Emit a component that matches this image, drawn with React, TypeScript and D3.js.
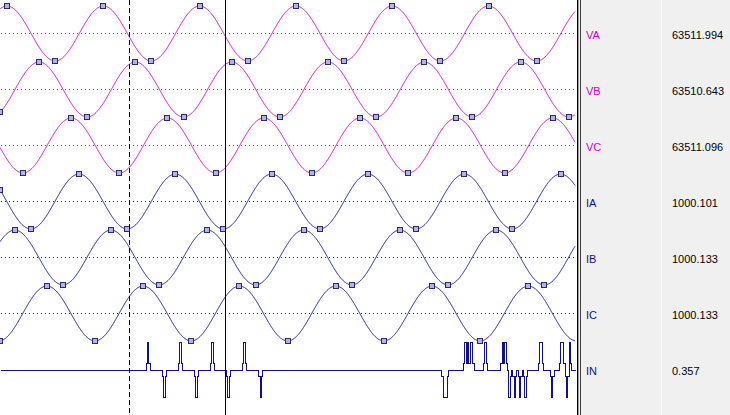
import React from 'react';
import * as d3 from 'd3';

const WIDTH = 730;
const HEIGHT = 415;

// ---- data ----
const PERIOD_MS = 1000 / 60;          // 60 Hz system
const T_END_MS = 99.5;                // visible time window
const CHANNELS = ['VA', 'VB', 'VC', 'IA', 'IB', 'IC', 'IN'];
const CHANNEL_KIND = ['V', 'V', 'V', 'I', 'I', 'I', 'N'];
const RMS_TEXT = ['63511.994', '63510.643', '63511.096', '1000.101', '1000.133', '1000.133', '0.357'];
const RMS_VALUES = [63511.994, 63510.643, 63511.096, 1000.101, 1000.133, 1000.133, 0.357];
// phase angle (deg) of each sinusoidal channel at t = 0
const PHASE_DEG = [-26.2, -146.0, 94.0, 64.7, -55.0, -175.0];
// cursors (ms): dashed, solid
const CURSOR_MS = [22.41, 39.02];
const CURSOR_STYLE = ['dashed', 'solid'];
// neutral current: sparse non-zero samples (72 samples / cycle), normalised
const IN_SAMPLES_PER_CYCLE = 72;
const IN_IDX = [
  109, 110, 111, 121, 122, 123, 133, 134, 135, 145, 146, 147,
  157, 158, 159, 169, 170, 171, 181, 182, 183, 193, 194, 195,
  330, 331, 332, 333, 334,
  346, 347, 348, 349, 350, 351, 352, 353,
  361, 362, 363,
  374, 375, 376, 377, 378,
  380, 381, 383, 384, 385, 387, 388, 389, 391, 392, 393,
  402, 403, 404, 405,
  411, 412, 413,
  418, 419, 420, 421, 422, 423, 424, 425, 426,
];
const IN_VAL = [
  0.25, 1, 0.25, -0.25, -1, -0.25, 0.25, 1, 0.25, -0.25, -1, -0.25,
  0.25, 1, 0.25, -0.25, -1, -0.25, 0.25, 1, 0.25, -0.25, -1, -0.25,
  -0.25, -1, -1, -1, -0.25,
  0.25, 1, 0.25, 1, 0.25, 1, 1, 0.25,
  0.25, 1, 0.25,
  0.25, 1, 0.25, 1, 0.25,
  -1, -0.25, -0.25, -1, -0.25, -0.25, -1, -0.25, -0.25, -1, -0.25,
  0.25, 1, 1, 0.25,
  -0.25, -1, -0.25,
  0.25, 1, 1, 0.25, -0.25, -1, -0.25, 1, 0.25,
];
const KIND_MAX: Record<string, number> = { V: 90000, I: 1420, N: 1 };
const KIND_COLOR: Record<string, string> = { V: '#cc00cc', I: '#10108c', N: '#10108c' };

export default function App() {
  const plotRight = 575;
  const x = d3.scaleLinear().domain([0, T_END_MS]).range([0, plotRight]);
  const center = d3.scalePoint<string>().domain(CHANNELS).range([33.5, 369.5]);
  const halfH = 27.5;
  const yKind = (k: string) => d3.scaleLinear().domain([-KIND_MAX[k], KIND_MAX[k]]).range([halfH, -halfH]);
  const omega = (2 * Math.PI) / PERIOD_MS;

  const sineVal = (i: number, t: number) =>
    Math.SQRT2 * RMS_VALUES[i] * Math.cos(omega * t + (PHASE_DEG[i] * Math.PI) / 180);

  const step = x.invert(0.25);
  const ts = d3.range(0, T_END_MS + step / 2, step);

  const sineTraces = PHASE_DEG.map((_, i) => {
    const k = CHANNEL_KIND[i];
    const c = center(CHANNELS[i])!;
    const ys = yKind(k);
    const line = d3.line<number>().x((t) => x(t)).y((t) => c + ys(sineVal(i, t)));
    // markers at positive / negative extremes
    const phi = (PHASE_DEG[i] * Math.PI) / 180;
    const tMin = x.invert(-20);
    const markers: [number, number][] = [];
    for (let n = -20; n < 40; n++) {
      const t = (n * Math.PI - phi) / omega;
      if (t < tMin || t > T_END_MS) continue;
      const tc = Math.max(0, t);
      markers.push([x(tc), c + ys(sineVal(i, tc))]);
    }
    return { path: line(ts)!, markers, color: KIND_COLOR[k], c };
  });

  // neutral
  const dtIN = PERIOD_MS / IN_SAMPLES_PER_CYCLE;
  const nIN = Math.ceil(T_END_MS / dtIN);
  const inVals = new Array(nIN + 1).fill(0);
  IN_IDX.forEach((n, j) => { inVals[n] = IN_VAL[j]; });
  const inC = center('IN')!;
  const yN = yKind('N');
  const inPts = inVals.map((v, n) => [Math.min(T_END_MS, n * dtIN), v] as [number, number]);
  const inPath = d3.line<[number, number]>()
    .x((d) => Math.round(x(d[0])) + 0.5)
    .y((d) => Math.round(inC + yN(d[1])) + 0.5)
    .curve(d3.curveStepAfter)(inPts)!;

  const font = '"Liberation Sans", Arial, sans-serif';

  return (
    <svg width={WIDTH} height={HEIGHT} style={{ position: 'absolute', left: 0, top: 0, background: '#ffffff' }}>
      <rect x={0} y={0} width={577} height={HEIGHT} fill="#ffffff" />
      {/* dotted zero lines */}
      {CHANNELS.slice(0, 6).map((ch, i) => (
        <line key={'z' + ch} x1={1} x2={plotRight} y1={center(ch)} y2={center(ch)}
          stroke={KIND_COLOR[CHANNEL_KIND[i]]} strokeWidth={1} strokeDasharray="1,3" shapeRendering="crispEdges" />
      ))}
      {/* sine traces */}
      {sineTraces.map((s, i) => (
        <path key={'s' + i} d={s.path} fill="none" stroke={s.color} strokeWidth={1} />
      ))}
      {/* neutral trace */}
      <path d={inPath} fill="none" stroke={KIND_COLOR.N} strokeWidth={1} shapeRendering="crispEdges" />
      {/* markers */}
      {sineTraces.map((s, i) => (
        <g key={'m' + i}>
          {s.markers.map((m, j) => (
            <rect key={j} x={Math.round(m[0]) - 2.5} y={Math.round(m[1]) - 2.5} width={5} height={5}
              fill="#b4b4e4" stroke="#2a2a70" strokeWidth={1} shapeRendering="crispEdges" />
          ))}
        </g>
      ))}
      {/* cursors */}
      {CURSOR_MS.map((t, i) => (
        <line key={'c' + i} x1={Math.floor(x(t)) + 0.5} x2={Math.floor(x(t)) + 0.5} y1={0} y2={HEIGHT}
          stroke="#000000" strokeWidth={1} strokeDasharray={CURSOR_STYLE[i] === 'dashed' ? '5,3' : undefined}
          shapeRendering="crispEdges" />
      ))}
      {/* right panel */}
      <rect x={578} y={0} width={WIDTH - 578} height={HEIGHT} fill="#f0f0f0" />
      <line x1={577.5} x2={577.5} y1={0} y2={HEIGHT} stroke="#000000" shapeRendering="crispEdges" />
      <line x1={578.5} x2={578.5} y1={0} y2={HEIGHT} stroke="#a0a0a0" shapeRendering="crispEdges" />
      <line x1={580.5} x2={580.5} y1={0} y2={HEIGHT} stroke="#404040" shapeRendering="crispEdges" />
      <line x1={661.5} x2={661.5} y1={0} y2={HEIGHT} stroke="#ffffff" shapeRendering="crispEdges" />
      {CHANNELS.map((ch, i) => (
        <g key={'t' + ch}>
          <text x={586} y={center(ch)! + 5.5} fontFamily={font} fontSize={11}
            fill={KIND_COLOR[CHANNEL_KIND[i]]}>{ch}</text>
          <text x={672} y={center(ch)! + 5.5} fontFamily={font} fontSize={11} fill="#000000">{RMS_TEXT[i]}</text>
        </g>
      ))}
    </svg>
  );
}
